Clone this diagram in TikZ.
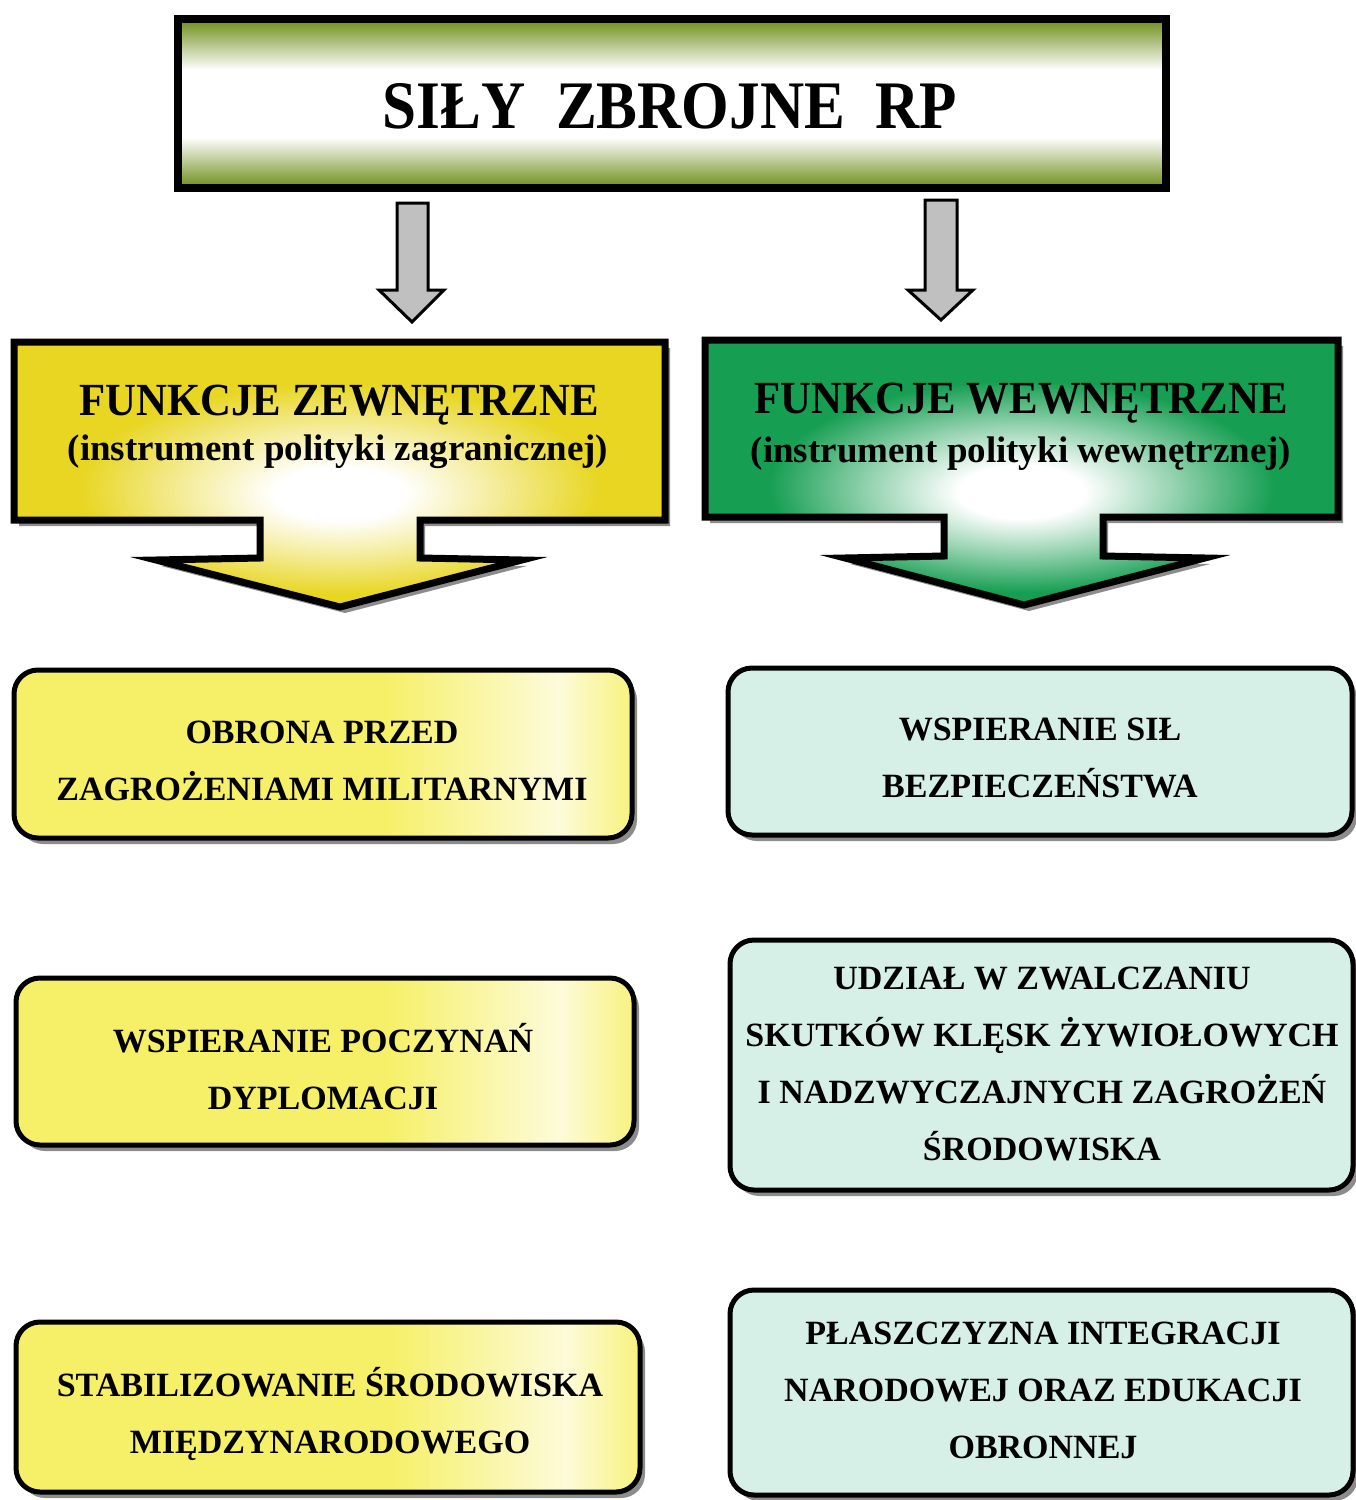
\documentclass[tikz,border=0pt]{standalone}
\usepackage{fontspec}
\setmainfont{Liberation Serif}
\usetikzlibrary{shadows}
\definecolor{olv}{RGB}{118,148,38}
\definecolor{hy}{RGB}{232,214,34}
\definecolor{hg}{RGB}{22,158,82}
\definecolor{by}{RGB}{246,240,104}
\definecolor{bc}{RGB}{214,240,232}
\definecolor{ar}{RGB}{192,192,192}
% TikZ maps the path box onto the 25bp--75bp part of a shading
\pgfdeclareverticalshading{topshade}{100bp}{color(0bp)=(olv); color(26bp)=(olv); color(40bp)=(white); color(60bp)=(white); color(74bp)=(olv); color(100bp)=(olv)}
\pgfdeclareradialshading{yrad}{\pgfpoint{0bp}{-4bp}}{color(0bp)=(white); color(5bp)=(white); color(12bp)=(hy!45!white); color(20bp)=(hy); color(60bp)=(hy)}
\pgfdeclareradialshading{grad}{\pgfpoint{0bp}{-4bp}}{color(0bp)=(white); color(5bp)=(white); color(12bp)=(hg!45!white); color(20bp)=(hg); color(60bp)=(hg)}
\pgfdeclarehorizontalshading{yboxshade}{100bp}{color(0bp)=(by); color(55bp)=(by); color(69bp)=(white!75!by); color(75bp)=(by!85!white); color(100bp)=(by)}
\tikzset{
  shd/.style={drop shadow={shadow xshift=5pt, shadow yshift=-6pt, fill=black!45, opacity=1}},
  boxtxt/.style={font=\fontsize{34}{57}\selectfont\bfseries, align=center},
  ybox/.style={draw=black, line width=5pt, rounded corners=24pt, shading=yboxshade, shd, inner sep=0pt},
  cbox/.style={draw=black, line width=5pt, rounded corners=24pt, fill=bc, shd, inner sep=0pt},
  hdr/.style={draw=black, line width=7pt, line join=miter, shd},
  hdrtitle/.style={font=\fontsize{46}{46}\selectfont\bfseries, anchor=base},
  hdrsub/.style={font=\fontsize{37}{37}\selectfont\bfseries, anchor=base},
  grayarrow/.style={draw=black, line width=3pt, fill=ar, line join=miter},
}
\begin{document}
\begin{tikzpicture}[x=1pt, y=-1pt]
\useasboundingbox (0,0) rectangle (1356,1500);
% top box
\node[draw=black, line width=8pt, shading=topshade, minimum width=988pt, minimum height=169pt, inner sep=0pt] (top) at (672,103.5) {};
\node[font=\fontsize{68}{68}\selectfont\bfseries, anchor=base] (toptxt) at (670,128) {\scalebox{0.9}[1]{SIŁY\ \ ZBROJNE\ \ RP}};
% gray arrows
\draw[grayarrow] (397,203) -- (428,203) -- (428,290) -- (444,290) -- (412,322) -- (379,290) -- (397,290) -- cycle;
\draw[grayarrow] (925,200) -- (957,200) -- (957,290) -- (973,290) -- (941,320) -- (908,290) -- (925,290) -- cycle;
% left header
\path[hdr, shading=yrad] (14,342) -- (665,342) -- (665,520) -- (420,520) -- (420,558) -- (522,560) -- (340,607) -- (156,560) -- (260,558) -- (260,520) -- (14,520) -- cycle;
\node[hdrtitle] (hl1) at (339,415) {\scalebox{0.93}[1]{FUNKCJE ZEWNĘTRZNE}};
\node[hdrsub] (hl2) at (338,460) {(instrument polityki zagranicznej)};
% right header
\path[hdr, shading=grad] (705,340) -- (1338,340) -- (1338,517) -- (1103,517) -- (1103,556) -- (1205,558) -- (1024,605) -- (845,558) -- (944,556) -- (944,517) -- (705,517) -- cycle;
\node[hdrtitle] (hr1) at (1021,413) {\scalebox{0.93}[1]{FUNKCJE WEWNĘTRZNE}};
\node[hdrsub] (hr2) at (1021,462) {(instrument polityki wewnętrznej)};
% left boxes
\node[ybox, minimum width=618pt, minimum height=168pt] (l1) at (323,754) {};
\node[boxtxt] (l1t) at (322,760.5) {OBRONA PRZED\\ZAGROŻENIAMI MILITARNYMI};
\node[ybox, minimum width=618pt, minimum height=167pt] (l2) at (325,1061.5) {};
\node[boxtxt] (l2t) at (323,1067) {WSPIERANIE POCZYNAŃ\\DYPLOMACJI};
\node[ybox, minimum width=624pt, minimum height=170pt] (l3) at (328,1407) {};
\node[boxtxt] (l3t) at (330,1413.5) {STABILIZOWANIE ŚRODOWISKA\\MIĘDZYNARODOWEGO};
% right boxes
\node[cbox, minimum width=624pt, minimum height=167pt] (r1) at (1040,751.5) {};
\node[boxtxt] (r1t) at (1040,757.5) {WSPIERANIE SIŁ\\BEZPIECZEŃSTWA};
\node[cbox, minimum width=623pt, minimum height=250pt] (r2) at (1041.5,1065) {};
\node[boxtxt] (r2t) at (1042,1063.5) {UDZIAŁ W ZWALCZANIU\\SKUTKÓW KLĘSK ŻYWIOŁOWYCH\\I NADZWYCZAJNYCH ZAGROŻEŃ\\ŚRODOWISKA};
\node[cbox, minimum width=623pt, minimum height=205pt] (r3) at (1041.5,1392.5) {};
\node[boxtxt] (r3t) at (1043,1390) {PŁASZCZYZNA INTEGRACJI\\NARODOWEJ ORAZ EDUKACJI\\OBRONNEJ};
\end{tikzpicture}
\end{document}
